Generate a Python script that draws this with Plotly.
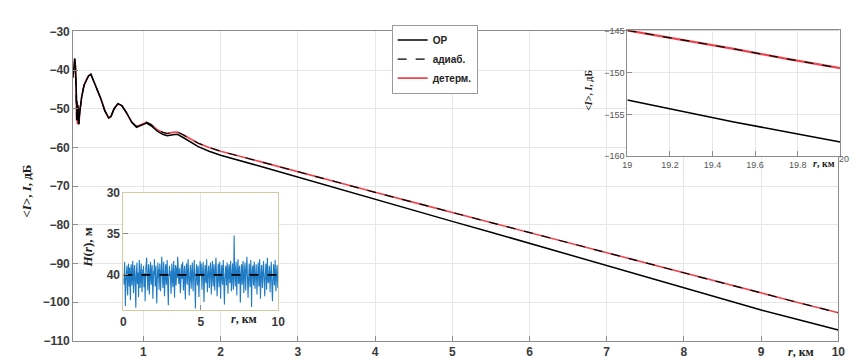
import plotly.graph_objects as go

# ---------------- data ----------------
# main plot: OP (black solid)
r_op = [0.09, 0.10, 0.11, 0.12, 0.13, 0.14, 0.15, 0.16, 0.17, 0.18, 0.20, 0.23, 0.26, 0.29,
        0.32, 0.35, 0.40, 0.45, 0.50, 0.55, 0.58, 0.62, 0.67, 0.72, 0.78, 0.85, 0.91, 0.97,
        1.04, 1.10, 1.18, 1.25, 1.31, 1.38, 1.44, 1.52, 1.60, 1.71, 1.85, 2.0, 2.5, 3.0, 3.5,
        4.0, 4.5, 5.0, 5.5, 6.0, 6.5, 7.0, 7.5, 8.0, 8.5, 9.0, 9.5, 10.0]
p_op = [-41.0, -38.0, -37.0, -39.0, -45.0, -51.0, -49.0, -54.0, -52.0, -50.0, -47.0, -44.0,
        -42.5, -41.5, -41.1, -42.5, -45.0, -47.5, -50.5, -52.4, -52.0, -50.0, -48.7, -49.2,
        -51.0, -53.5, -54.8, -54.3, -53.7, -54.4, -55.8, -56.6, -57.0, -56.7, -56.6, -57.5,
        -58.5, -59.8, -61.0, -62.0, -64.8, -67.7, -70.5, -73.4, -76.2, -79.1, -81.9, -84.8,
        -87.6, -90.5, -93.4, -96.3, -99.2, -102.0, -104.6, -107.2]

# main plot: determ. (red) and adiab. (black dashed)
r_det = [0.09, 0.10, 0.11, 0.12, 0.125, 0.13, 0.135, 0.14, 0.145, 0.15, 0.155, 0.16, 0.165,
         0.17, 0.18, 0.20, 0.23, 0.26, 0.29, 0.32, 0.35, 0.40, 0.45, 0.50, 0.55, 0.58, 0.62,
         0.67, 0.72, 0.78, 0.85, 0.91, 0.97, 1.04, 1.10, 1.18, 1.25, 1.31, 1.38, 1.44, 1.52,
         1.60, 1.71, 1.85, 2.0, 2.5, 3.0, 3.5, 4.0, 4.5, 5.0, 5.5, 6.0, 6.5, 7.0, 7.5, 8.0,
         8.5, 9.0, 9.5, 10.0]
p_det = [-42.0, -38.5, -37.2, -39.5, -44.0, -47.0, -53.0, -48.0, -54.0, -49.0, -53.0, -50.0,
         -54.0, -51.5, -50.0, -47.0, -44.0, -42.5, -41.5, -41.1, -42.5, -45.0, -47.5, -50.5,
         -52.4, -52.0, -50.0, -48.7, -49.2, -51.0, -53.5, -54.6, -54.1, -53.5, -54.1, -55.4,
         -56.1, -56.4, -56.1, -56.0, -56.8, -57.7, -58.9, -60.0, -61.0, -63.6, -66.3, -68.9,
         -71.6, -74.2, -76.8, -79.5, -82.1, -84.7, -87.3, -89.9, -92.5, -95.1, -97.7, -100.2,
         -102.7]
p_adiab = [-42.0, -38.5, -37.2, -39.5, -44.0, -47.0, -53.0, -48.0, -54.0, -49.0, -53.0, -50.0,
           -54.0, -51.5, -50.0, -47.0, -44.0, -42.5, -41.5, -41.1, -42.5, -45.0, -47.5, -50.5,
           -52.4, -52.0, -50.0, -48.7, -49.2, -51.0, -53.5, -54.6, -54.1, -53.5, -54.1, -55.4,
           -56.1, -56.4, -56.1, -56.0, -56.8, -57.7, -58.9, -60.0, -61.0, -63.6, -66.3, -68.9,
           -71.6, -74.2, -76.8, -79.5, -82.1, -84.7, -87.3, -89.9, -92.5, -95.1, -97.7, -100.2,
           -102.7]

# top-right inset (19..20 km)
r_far = [19.0, 19.25, 19.5, 19.75, 20.0]
p_far_op = [-153.3, -154.6, -155.9, -157.1, -158.3]
p_far_det = [-145.0, -146.1, -147.2, -148.4, -149.5]
p_far_adiab = [-145.0, -146.1, -147.2, -148.4, -149.5]

# bottom-left inset: depth H(r), samples every 0.025 km from 0 to 10 km
h_vals = [
    40.3, 41.2, 39.5, 38.4, 40.9, 43.8, 41.0, 39.2, 40.6, 38.9, 41.7, 42.5, 39.8, 38.6, 40.2, 41.4, 39.1, 40.8, 43.1, 40.0,
    38.7, 39.6, 41.3, 40.4, 38.3, 39.9, 42.2, 40.7, 39.3, 38.8, 40.5, 41.8, 44.0, 40.1, 39.4, 38.5, 41.1, 40.3, 39.7, 42.7,
    40.6, 38.2, 39.5, 41.6, 40.0, 39.0, 38.6, 40.9, 42.1, 41.0, 39.3, 40.2, 38.9, 41.5, 40.4, 39.8, 43.2, 40.7, 39.1, 38.3,
    37.9, 39.6, 40.8, 41.9, 40.1, 38.7, 39.4, 42.4, 40.5, 39.2, 38.4, 40.3, 41.2, 39.9, 38.8, 40.6, 42.9, 41.1, 39.5, 40.0,
    38.1, 39.7, 41.4, 40.2, 38.9, 40.7, 43.5, 41.3, 39.0, 38.5, 40.4, 39.3, 41.8, 40.9, 38.6, 39.8, 42.0, 40.1, 39.4, 37.8,
    39.1, 40.6, 41.6, 40.3, 38.4, 39.9, 42.6, 40.8, 39.6, 38.7, 40.0, 41.2, 39.2, 38.2, 40.5, 41.7, 43.7, 40.4, 39.0, 38.9,
    40.2, 39.5, 41.0, 42.3, 40.7, 38.6, 39.3, 40.9, 41.5, 39.7, 38.3, 40.1, 42.8, 40.6, 39.4, 38.8, 41.3, 40.0, 39.1, 40.4,
    37.8, 38.5, 39.9, 41.1, 40.3, 39.2, 40.8, 42.2, 41.4, 39.6, 38.7, 40.5, 39.0, 38.4, 40.2, 41.9, 40.7, 39.5, 38.9, 41.6,
    43.0, 40.1, 39.3, 38.6, 40.6, 41.2, 39.8, 38.1, 39.4, 40.9, 42.5, 41.0, 39.7, 38.8, 40.3, 41.7, 40.0, 39.1, 38.5, 40.7,
    42.0, 40.4, 39.6, 38.2, 39.9, 41.5, 44.1, 40.8, 39.2, 38.7, 40.2, 41.3, 39.5, 38.9, 40.5, 42.7, 41.1, 39.8, 38.3, 40.0,
    39.4, 38.6, 40.7, 41.8, 40.1, 39.0, 38.4, 40.6, 43.3, 41.2, 39.7, 38.8, 40.3, 41.0, 39.3, 38.1, 40.8, 42.1, 40.4, 39.6,
    38.9, 40.2, 41.6, 40.5, 39.1, 38.5, 39.8, 42.4, 40.9, 39.4, 38.3, 40.0, 41.4, 39.9, 38.7, 40.6, 41.9, 40.2, 39.2, 37.9,
    39.5, 40.8, 42.6, 41.1, 39.7, 38.6, 40.3, 41.5, 39.0, 38.4, 40.1, 42.9, 40.7, 39.6, 38.8, 40.4, 41.2, 39.3, 38.2, 40.5,
    41.7, 43.6, 40.6, 39.8, 38.9, 40.0, 41.3, 39.4, 38.5, 39.9, 42.3, 40.8, 39.1, 38.7, 40.2, 41.0, 39.6, 38.3, 40.7, 42.0,
    40.3, 39.2, 38.6, 40.9, 41.8, 40.1, 35.2, 38.8, 40.4, 41.4, 39.5, 38.4, 40.6, 42.5, 40.0, 39.3, 38.1, 40.8, 41.1, 39.7,
    38.9, 40.2, 43.4, 41.6, 39.8, 38.7, 40.5, 41.2, 39.1, 38.3, 40.0, 42.2, 40.7, 39.4, 38.5, 40.3, 41.9, 39.9, 38.8, 37.8,
    39.6, 40.9, 42.8, 41.0, 39.2, 38.6, 40.4, 41.5, 39.7, 38.2, 40.1, 43.9, 40.6, 39.5, 38.9, 40.2, 41.3, 39.0, 38.4, 40.8,
    41.7, 40.3, 39.3, 38.7, 40.5, 42.4, 40.9, 39.8, 38.5, 40.0, 41.4, 39.4, 38.1, 40.6, 42.9, 41.1, 39.6, 38.8, 40.2, 41.6,
    40.4, 39.1, 38.3, 39.9, 41.2, 42.6, 40.7, 39.5, 38.6, 40.1, 41.8, 39.2, 37.9, 40.3, 41.0, 40.8, 39.7, 38.9, 40.5, 42.1,
    40.0, 39.3, 38.4, 40.6, 41.5, 43.2, 40.9, 39.6, 38.7, 40.2, 41.3, 39.8, 38.2, 40.4, 42.0, 40.7, 39.4, 38.8, 40.1, 41.6,
    40.3,
]
r_h = [i * 0.025 for i in range(len(h_vals))]
r_h_mean = [0.0, 10.0]
h_mean = [40.0, 40.0]

# tick labels
main_xticks = [1, 2, 3, 4, 5, 6, 7, 8, 9, 10]
main_yticks = [-110, -100, -90, -80, -70, -60, -50, -40, -30]
inset_h_xticks = [0, 5, 10]
inset_h_yticks = [30, 35, 40]
inset_far_xticks = [19.0, 19.2, 19.4, 19.6, 19.8]
inset_far_xlabels = ["19", "19.2", "19.4", "19.6", "19.8"]
inset_far_yticks = [-160, -155, -150, -145]

# ---------------- figure ----------------
RED = "rgb(238,70,80)"
fig = go.Figure()

# main
fig.add_trace(go.Scatter(x=r_det, y=p_det, name="детерм.", mode="lines",
                         line=dict(color=RED, width=1.6), legendrank=3))
fig.add_trace(go.Scatter(x=r_det, y=p_adiab, name="адиаб.", mode="lines",
                         line=dict(color="black", width=1.2, dash="dash"), legendrank=2))
fig.add_trace(go.Scatter(x=r_op, y=p_op, name="ОР", mode="lines",
                         line=dict(color="black", width=1.5), legendrank=1))

# bottom-left inset
fig.add_trace(go.Scatter(x=r_h, y=h_vals, mode="lines", showlegend=False,
                         line=dict(color="#1f7cc4", width=1.1), xaxis="x2", yaxis="y2"))
fig.add_trace(go.Scatter(x=r_h_mean, y=h_mean, mode="lines", showlegend=False,
                         line=dict(color="black", width=1.6, dash="dash"), xaxis="x2", yaxis="y2"))

# top-right inset
fig.add_trace(go.Scatter(x=r_far, y=p_far_det, mode="lines", showlegend=False,
                         line=dict(color=RED, width=2.2), xaxis="x3", yaxis="y3"))
fig.add_trace(go.Scatter(x=r_far, y=p_far_adiab, mode="lines", showlegend=False,
                         line=dict(color="black", width=1.2, dash="dash"), xaxis="x3", yaxis="y3"))
fig.add_trace(go.Scatter(x=r_far, y=p_far_op, mode="lines", showlegend=False,
                         line=dict(color="black", width=1.5), xaxis="x3", yaxis="y3"))

W, H = 862, 363
def px(x):
    return x / W
def py(y):
    return 1 - y / H

TICKFONT = dict(family="Liberation Sans, Arial", size=12, color="#3a3a3a", weight="bold")
GRID = "#e6e6e6"
FRAME = "#8c8c8c"

common = dict(showgrid=True, gridcolor=GRID, gridwidth=1, showline=True, mirror=True,
              linecolor=FRAME, linewidth=1, ticks="inside", ticklen=5, tickcolor=FRAME,
              zeroline=False, tickfont=TICKFONT)
SMALLTICK = dict(family="Liberation Sans, Arial", size=9, color="#555")

fig.update_layout(
    width=W, height=H,
    margin=dict(l=0, r=0, t=0, b=0),
    paper_bgcolor="white", plot_bgcolor="white",
    showlegend=True,
    legend=dict(x=px(384), y=py(10), xanchor="left", yanchor="top",
                bgcolor="white", bordercolor="#9a9a9a", borderwidth=1,
                font=dict(family="Liberation Sans, Arial", size=10, color="#222", weight="bold"),
                tracegroupgap=0, itemwidth=30),
    xaxis=dict(domain=[px(61), px(837)], range=[0.09, 10], tickvals=main_xticks,
               anchor="y", **common),
    yaxis=dict(domain=[py(339), py(17)], range=[-110, -30], tickvals=main_yticks,
               anchor="x", **common),
    xaxis2=dict(domain=[px(112), px(269)], range=[0, 10], tickvals=inset_h_xticks,
                anchor="y2", **{**common, "linecolor": "#d6c9a0"}),
    yaxis2=dict(domain=[py(307), py(185)], range=[44.3, 30], tickvals=inset_h_yticks,
                anchor="x2", **{**common, "linecolor": "#d6c9a0"}),
    xaxis3=dict(domain=[px(623), px(839)], range=[19, 20], tickvals=inset_far_xticks,
                ticktext=inset_far_xlabels, anchor="y3",
                **{**common, "tickfont": SMALLTICK}),
    yaxis3=dict(domain=[py(147), py(16)], range=[-160, -145], tickvals=inset_far_yticks,
                anchor="x3", **{**common, "tickfont": SMALLTICK}),
)

LBL = dict(family="Liberation Serif, Times New Roman", size=13, color="#222")
annots = [
    dict(x=px(14), y=py(183), text="<b>&lt;<i>I</i>&gt;, <i>I</i>, дБ</b>", textangle=-90,
         font=LBL),
    dict(x=px(76), y=py(242), text="<b><i>H</i>(<i>r</i>), м</b>", textangle=-90, font=LBL),
    dict(x=px(234), y=py(316), text="<b><i>r</i>, км</b>", font=dict(LBL, size=12)),
    dict(x=px(799), y=py(350), text="<b><i>r</i>, км</b>", font=dict(LBL, size=12)),
    dict(x=px(584), y=py(78), text="<b>&lt;<i>I</i>&gt;, <i>I</i>, дБ</b>", textangle=-90,
         font=dict(LBL, size=10)),
    dict(x=px(822), y=py(154), text="<b><i>r</i>, км</b>", font=dict(LBL, size=10)),
    dict(x=px(843), y=py(150), text="20", font=SMALLTICK),
]
for a in annots:
    a.update(xref="paper", yref="paper", showarrow=False, xanchor="center", yanchor="middle")
fig.update_layout(annotations=annots)

fig.write_html("out.html")
